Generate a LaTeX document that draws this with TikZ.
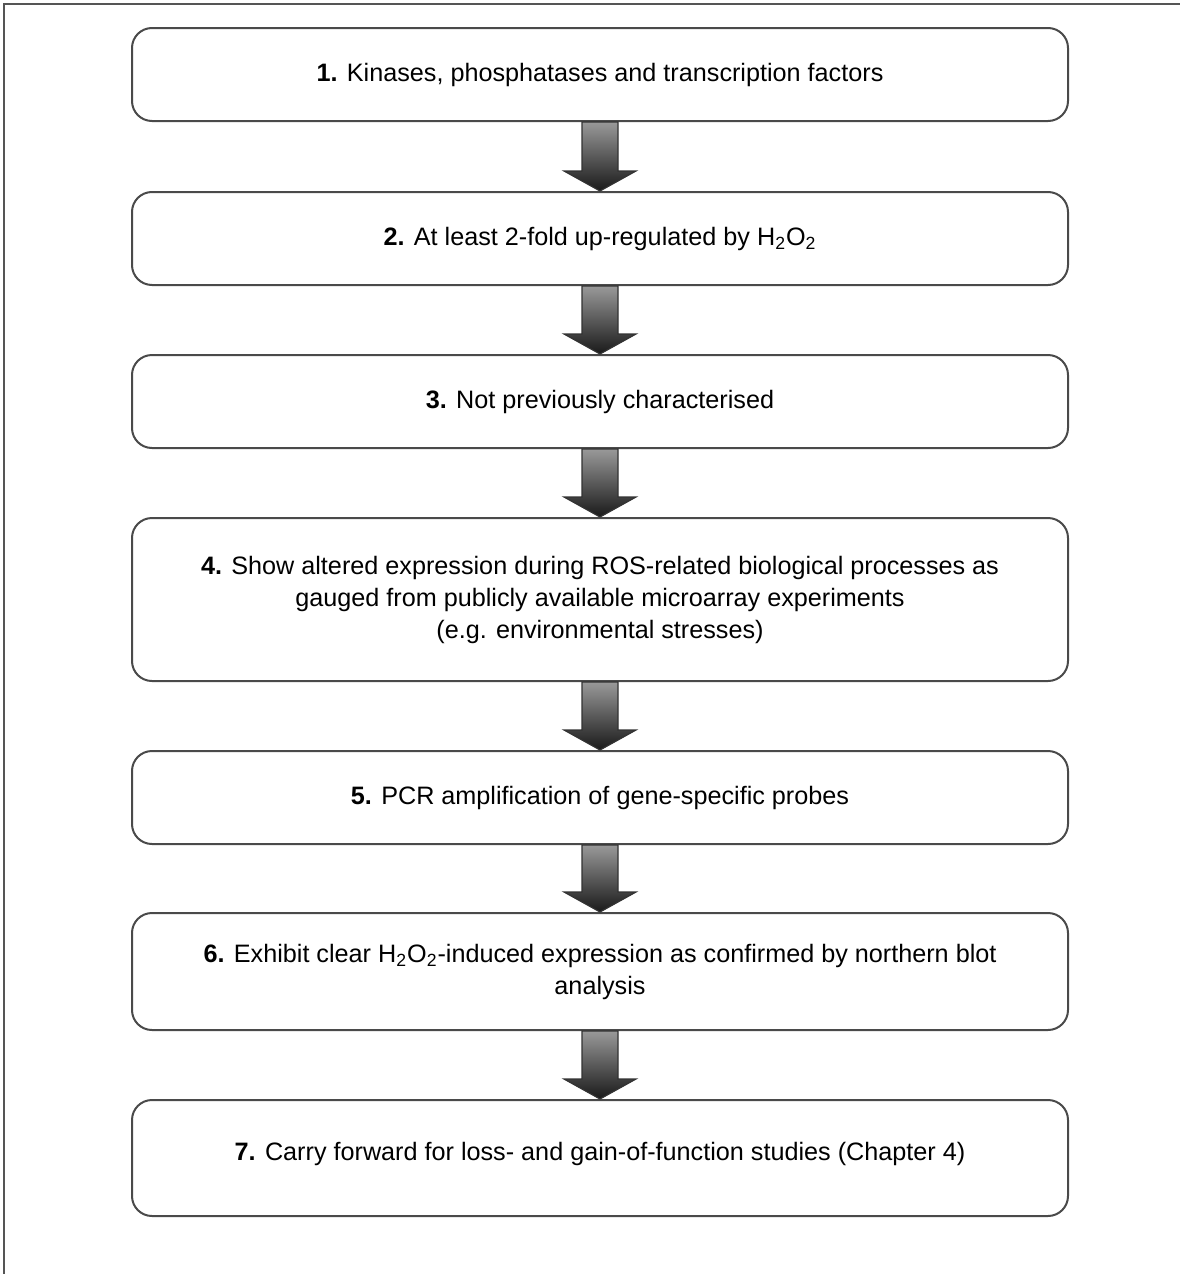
\documentclass[tikz,border=0pt]{standalone}
\usepackage{fontspec}
\setmainfont{Liberation Sans}
\usepackage{xcolor}
\usetikzlibrary{calc}
\definecolor{framegray}{HTML}{555555}
\definecolor{boxline}{HTML}{4a4a4a}

\tikzset{
  stepbox/.style = {draw = boxline, line width = 1pt, rectangle, rounded corners = 10pt,
                    minimum width = 468pt, align = center,
                    font = \fontsize{12.6pt}{16pt}\selectfont},
  bigarrow/.style = {draw = black!80, line width = 0.6pt, top color = black!40, bottom color = black!90}
}

\begin{document}
\begin{tikzpicture}

        \useasboundingbox (0pt, 0pt) rectangle (590pt, -637pt);

        % frame
        \draw [framegray, line width = 1pt] (2pt, -637pt) -- (2pt, -2pt) -- (590pt, -2pt);

        \node [stepbox, minimum height = 46.5pt] (s1) at (300pt, -37.25pt) {\textbf{1.} Kinases, phosphatases and transcription factors};
        \node [stepbox, minimum height = 46.5pt] (s2) at (300pt, -119.25pt) {\textbf{2.} At least 2-fold up-regulated by H\textsubscript{2}O\textsubscript{2}};
        \node [stepbox, minimum height = 46.5pt] (s3) at (300pt, -200.75pt) {\textbf{3.} Not previously characterised};
        \node [stepbox, minimum height = 81.5pt] (s4) at (300pt, -299.75pt) {\textbf{4.} Show altered expression during ROS-related biological processes as\\gauged from publicly available microarray experiments\\(e.g. environmental stresses)};
        \node [stepbox, minimum height = 46.5pt] (s5) at (300pt, -398.75pt) {\textbf{5.} PCR amplification of gene-specific probes};
        \node [stepbox, minimum height = 58.5pt] (s6) at (300pt, -485.75pt) {\textbf{6.} Exhibit clear H\textsubscript{2}O\textsubscript{2}-induced expression as confirmed by northern blot\\analysis};
        \node [stepbox, minimum height = 58pt] (s7) at (300pt, -579pt) {\raisebox{7pt}{\textbf{7.} Carry forward for loss- and gain-of-function studies (Chapter 4)}};

        % Block arrows
        \foreach \a/\b in {s1/s2, s2/s3, s3/s4, s4/s5, s5/s6, s6/s7}
          \path [bigarrow] ($(\a.south) + (-9pt, 0pt)$) -- ($(\b.north) + (-9pt, 10pt)$) -- ++(-9pt, 0pt)
            -- (\b.north) -- ++(18pt, 10pt) -- ++(-9pt, 0pt) -- ($(\a.south) + (9pt, 0pt)$) -- cycle;

    \end{tikzpicture}
\end{document}
